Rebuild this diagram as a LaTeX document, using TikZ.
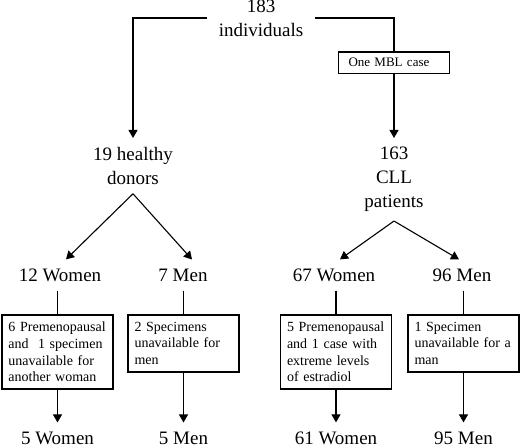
\documentclass[tikz,border=0pt]{standalone}
\usepackage{fontspec}
\setmainfont{Liberation Serif}
\usetikzlibrary{arrows.meta}

\begin{document}
\begin{tikzpicture}[x=1pt, y=-1pt,
    count/.style={align=center, font=\fontsize{19}{24}\selectfont, inner xsep=2pt, inner ysep=9pt},
    reason/.style={draw, line width=1.6pt, text width=98pt, align=left, inner xsep=6.5pt, inner ysep=7pt, font=\fontsize{14}{16.8}\selectfont, anchor=north},
    arr/.style={line width=1.1pt, -{Triangle[length=8pt, width=9pt]}},
    link/.style={line width=1.1pt}]
    \useasboundingbox (0,0) rectangle (520,446);

    % Top
    \node[count, inner xsep=12pt] (total) at (261,18) {183\\individuals};
    \node[reason, inner ysep=6.5pt, inner xsep=10pt, text width=91pt, font=\fontsize{13}{16}\selectfont] (mbl) at (394,51) {One MBL case};
    \node[count, anchor=north] (healthy) at (133,138) {19 healthy\\donors};
    \node[count, anchor=north] (cll) at (394,138) {163\\CLL\\patients};

    \draw[arr] (total) -| (healthy);
    \draw[link] (total) -| (mbl);
    \draw[arr] (mbl) -- (cll);



    % Healthy donors
    \node[count] (hw) at (60,275) {12 Women};
    \node[count] (hm) at (183,275) {7 Men};

    \node[reason] (hwbox) at (57.5,314) {6 Premenopausal\\and~ 1 specimen\\unavailable for\\another woman};
    \node[reason] (hmbox) at (183.5,314) {2 Specimens\\unavailable for\\men};

    \node[count] (hwend) at (57.5,438) {5 Women};
    \node[count] (hmend) at (183.5,438) {5 Men};

    \draw[arr] (healthy.south) -- ([xshift=6pt]hw.north);
    \draw[arr] (healthy.south) -- ([xshift=9pt]hm.north);

    \draw[link] (hw.south -| hwbox.north) -- (hwbox.north);
    \draw[link] (hm.south -| hmbox.north) -- (hmbox.north);
    \draw[arr] (hwbox) -- (hwend);
    \draw[arr] (hmbox) -- (hmend);



    % CLL patients
    \node[count] (cw) at (334,275) {67 Women};
    \node[count] (cm) at (462,275) {96 Men};

    \node[reason] (cwbox) at (336,314) {5 Premenopausal\\and 1 case with\\extreme levels\\of estradiol};
    \node[reason] (cmbox) at (463.5,314) {1 Specimen\\unavailable for a\\man};

    \node[count] (cwend) at (336,438) {61 Women};
    \node[count] (cmend) at (463.5,438) {95 Men};

    \draw[arr] (cll.south) -- ([xshift=6pt]cw.north);
    \draw[arr] (cll.south) -- ([xshift=-3pt]cm.north);

    \draw[link] (cw.south -| cwbox.north) -- (cwbox.north);
    \draw[link] (cm.south -| cmbox.north) -- (cmbox.north);
    \draw[arr] (cwbox) -- (cwend);
    \draw[arr] (cmbox) -- (cmend);
  \end{tikzpicture}
\end{document}
